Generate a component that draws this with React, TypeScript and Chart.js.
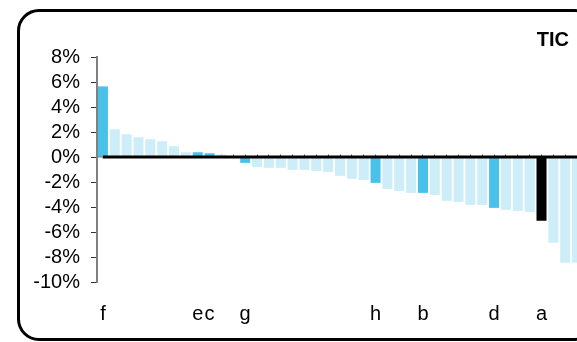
import React, { useEffect, useRef } from 'react';
import { Chart, registerables } from 'chart.js';

Chart.register(...registerables);

// ---- data ----
const categories = [
  'f', '', '', '', '', '', '', '', 'e', 'c',
  '', '', 'g', '', '', '', '', '', '', '',
  '', '', '', 'h', '', '', '', 'b', '', '',
  '', '', '', 'd', '', '', '', 'a', '', '',
  '',
];
const values = [
  5.65, 2.22, 1.82, 1.58, 1.42, 1.26, 0.86, 0.38, 0.38, 0.3,
  0.2, 0.02, -0.47, -0.79, -0.87, -0.87, -1.03, -1.03, -1.11, -1.19,
  -1.51, -1.75, -1.83, -2.07, -2.55, -2.71, -2.87, -2.87, -3.03, -3.51,
  -3.59, -3.83, -3.83, -4.07, -4.23, -4.31, -4.39, -5.1, -6.86, -8.46,
  -8.46,
];
const zeroLine = categories.map(() => 0);
const yMin = -10;
const yMax = 8;
const yStep = 2;
const chartTitle = 'TIC';
const focusCategory = 'a';

// ---- styles ----
const FONT = '"Liberation Sans", Arial, Helvetica, sans-serif';
const HIGHLIGHT = '#49C2EA';
const BASE = '#CDEDF8';
const FOCUS = '#000000';

export default function App() {
  const ref = useRef<HTMLCanvasElement | null>(null);

  useEffect(() => {
    if (!ref.current) return;
    const colors = categories.map((c) =>
      c === focusCategory ? FOCUS : c !== '' ? HIGHLIGHT : BASE
    );
    const chart = new Chart(ref.current, {
      type: 'bar',
      data: {
        labels: categories,
        datasets: [
          {
            type: 'line',
            data: zeroLine,
            borderColor: '#000',
            borderWidth: 3,
            pointRadius: 0,
            order: 0,
            xAxisID: 'x',
            yAxisID: 'y',
          } as any,
          {
            type: 'bar',
            data: values,
            backgroundColor: colors,
            borderWidth: 0,
            barPercentage: 0.845,
            categoryPercentage: 1,
            order: 1,
            xAxisID: 'x',
            yAxisID: 'y',
          },
        ],
      },
      options: {
        responsive: false,
        animation: false,
        layout: { padding: { top: 57, right: 0, bottom: 0, left: 0 } },
        plugins: {
          legend: { display: false },
          tooltip: { enabled: false },
          title: { display: false },
        },
        scales: {
          x: {
            type: 'category',
            position: { y: 0 } as any,
            offset: true,
            grid: {
              display: true,
              drawOnChartArea: false,
              drawTicks: true,
              tickLength: -3,
              color: '#555',
              offset: false,
            },
            border: { display: true, color: '#808080', width: 1.5 },
            ticks: { display: false, autoSkip: false, padding: 0 },
            afterFit: (s: any) => {
              s.paddingLeft = 0;
              s.paddingRight = 0;
            },
          },
          x2: {
            type: 'category',
            position: 'bottom',
            offset: true,
            grid: { display: false, drawTicks: true, tickLength: 20 },
            border: { display: false },
            ticks: {
              autoSkip: false,
              maxRotation: 0,
              minRotation: 0,
              padding: 0,
              color: '#000',
              font: { family: FONT, size: 20 },
            },
            afterFit: (s: any) => {
              s.height = 60;
              s.paddingLeft = 0;
              s.paddingRight = 0;
            },
          },
          y: {
            min: yMin,
            max: yMax,
            grid: {
              drawOnChartArea: false,
              drawTicks: true,
              tickLength: 6,
              color: '#333',
            },
            border: { display: true, color: '#808080', width: 2 },
            ticks: {
              stepSize: yStep,
              autoSkip: false,
              padding: 11,
              color: '#000',
              font: { family: FONT, size: 20 },
              callback: (v: any) => `${v}%`,
            },
            afterFit: (s: any) => {
              s.width = 97;
            },
          },
        },
      },
    });
    return () => chart.destroy();
  }, []);

  return (
    <div
      style={{
        position: 'fixed',
        left: 0,
        top: 0,
        width: 577,
        height: 342,
        overflow: 'hidden',
        background: '#fff',
      }}
    >
      <canvas
        ref={ref}
        width={583}
        height={342}
        style={{ position: 'absolute', left: 0, top: 0, width: 583, height: 342 }}
      />
      <div
        style={{
          position: 'absolute',
          left: 17,
          top: 9,
          width: 580,
          height: 332,
          border: '3px solid #000',
          borderRadius: 22,
          boxSizing: 'border-box',
          pointerEvents: 'none',
        }}
      />
      <div
        style={{
          position: 'absolute',
          right: 8,
          top: 29,
          fontFamily: FONT,
          fontWeight: 'bold',
          fontSize: 20,
          lineHeight: '20px',
          color: '#000',
        }}
      >
        {chartTitle}
      </div>
    </div>
  );
}
